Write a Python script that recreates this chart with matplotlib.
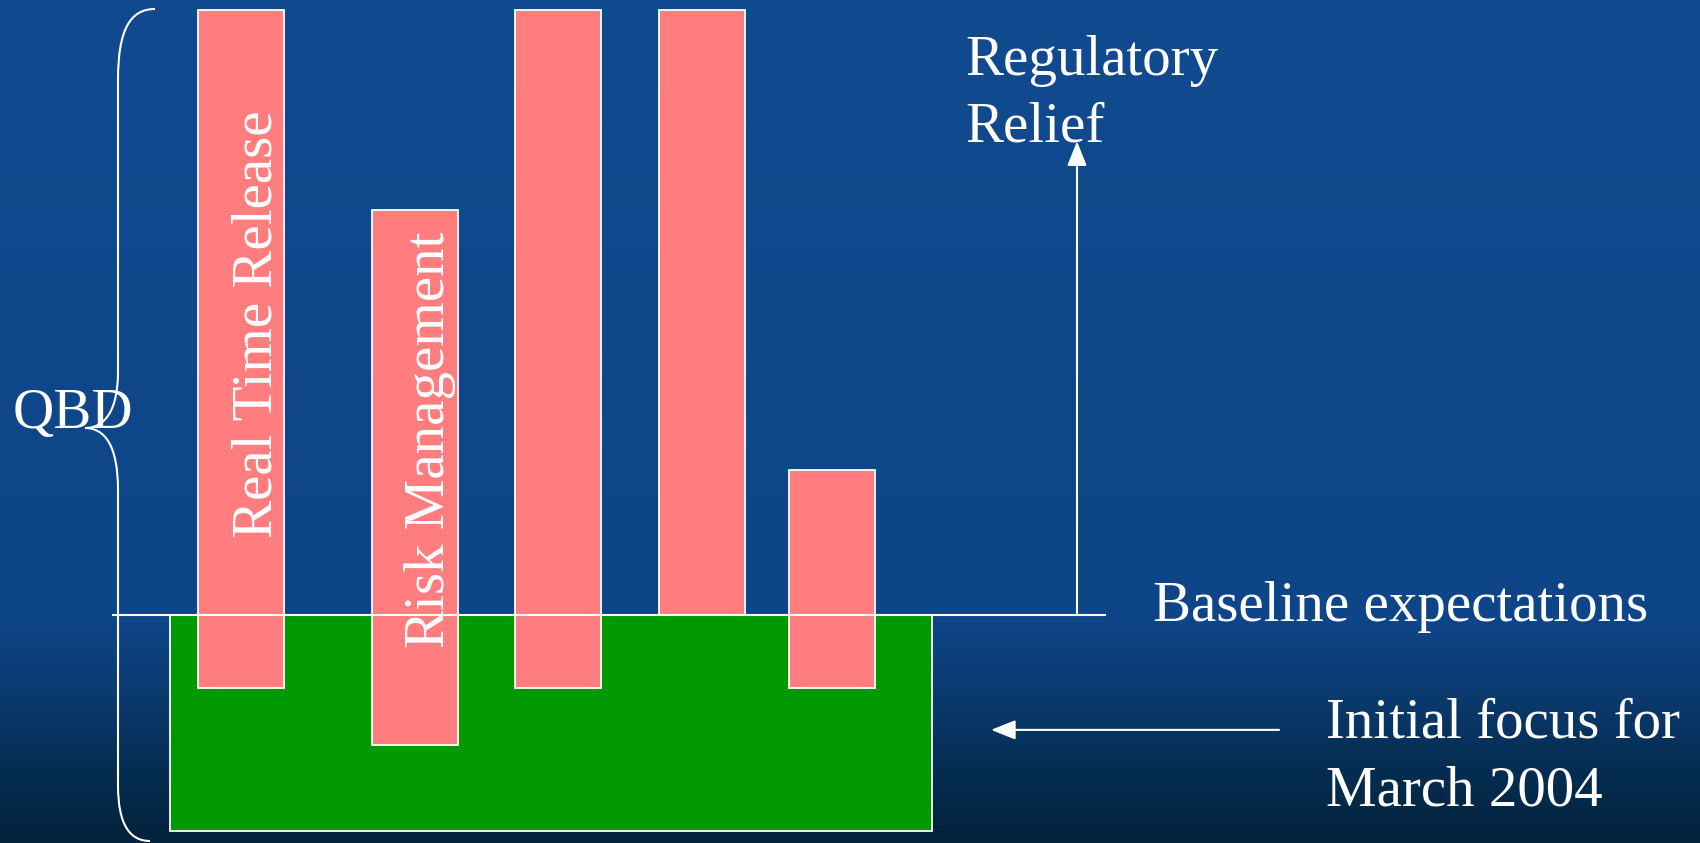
import numpy as np
import matplotlib.pyplot as plt
from matplotlib.colors import LinearSegmentedColormap
from matplotlib.path import Path
from matplotlib.patches import PathPatch

# bar values, in units above / below the baseline expectations line
categories = ["Real Time Release", "Risk Management", "", "", ""]
above = [10.0, 6.7, 10.0, 10.0, 2.4]
below = [1.2, 2.15, 1.2, 0.0, 1.2]
initial_focus_depth = 3.57
relief_level = 7.83
focus_arrow_level = -1.9

# layout (pixels across the slide)
bar_x = [241, 415, 558, 702, 832]
bar_w = 86
focus_x0, focus_x1 = 170, 932

FONT = ["Liberation Serif", "DejaVu Serif"]
PINK = "#FF7D7E"
GREEN = "#009A00"
W, H = 1700, 843

fig = plt.figure(figsize=(17, 8.43), dpi=100)
ax = fig.add_axes([0, 0, 1, 1])
ymin, ymax = -3.77, 10.165
ax.set_xlim(0, W)
ax.set_ylim(ymin, ymax)
ax.axis("off")

# slide background: blue, darkening towards the bottom
bg = LinearSegmentedColormap.from_list(
    "slide",
    [(0, "#114A8F"), (0.74, "#0E4588"), (0.84, "#0A386A"),
     (0.93, "#052B4D"), (1, "#02223D")])
grad = np.linspace(0, 1, 256)[:, None]
ax.imshow(grad, cmap=bg, extent=(0, W, ymin, ymax), aspect="auto", zorder=0)

# initial focus box
ax.bar((focus_x0 + focus_x1) / 2, -initial_focus_depth, width=focus_x1 - focus_x0,
       bottom=0, color=GREEN, edgecolor="white", linewidth=1.3, zorder=2)

# QbD element bars
heights = [a + b for a, b in zip(above, below)]
bottoms = [-b for b in below]
ax.bar(bar_x, heights, bottom=bottoms, width=bar_w, color=PINK,
       edgecolor="white", linewidth=1.3, zorder=3)

# baseline expectations line + arrows
ax.hlines(0, 112, 1106, color="white", linewidth=1.5, zorder=4)
arrow = dict(arrowstyle="-|>,head_length=0.75,head_width=0.3", color="white",
             linewidth=1.5, shrinkA=0, shrinkB=0, mutation_scale=20)
ax.annotate("", xy=(1077, relief_level), xytext=(1077, 0), arrowprops=arrow, zorder=4)
ax.annotate("", xy=(991, focus_arrow_level), xytext=(1279, focus_arrow_level),
            arrowprops=arrow, zorder=4)

# overlay in pixel coordinates for the brace and labels
ov = fig.add_axes([0, 0, 1, 1], facecolor="none")
ov.set_xlim(0, W)
ov.set_ylim(H, 0)
ov.axis("off")

brace = Path(
    [(155, 9), (130, 9), (118, 30), (118, 80),
     (118, 372),
     (118, 410), (105, 428), (85, 428),
     (105, 428), (118, 446), (118, 490),
     (118, 785),
     (118, 825), (130, 841), (150, 841)],
    [Path.MOVETO, Path.CURVE4, Path.CURVE4, Path.CURVE4,
     Path.LINETO,
     Path.CURVE4, Path.CURVE4, Path.CURVE4,
     Path.CURVE4, Path.CURVE4, Path.CURVE4,
     Path.LINETO,
     Path.CURVE4, Path.CURVE4, Path.CURVE4])
ov.add_patch(PathPatch(brace, facecolor="none", edgecolor="white", linewidth=1.5))

txt = dict(family=FONT, fontsize=41, color="white", va="baseline", ha="left")
ov.text(13, 428, "QBD", **txt)
for i, line in enumerate(["Regulatory", "Relief"]):
    ov.text(965, 75 + 67 * i, line, **txt)
ov.text(1153, 621, "Baseline expectations", **txt)
for i, line in enumerate(["Initial focus for", "March 2004"]):
    ov.text(1326, 737 + 68 * i, line, **txt)

# rotated labels inside the first two bars
ov.text(272, 538, categories[0], rotation=90, rotation_mode="anchor", **txt)
ov.text(444, 648, categories[1], rotation=90, rotation_mode="anchor", **txt)

fig.savefig("out.png", dpi=100)
